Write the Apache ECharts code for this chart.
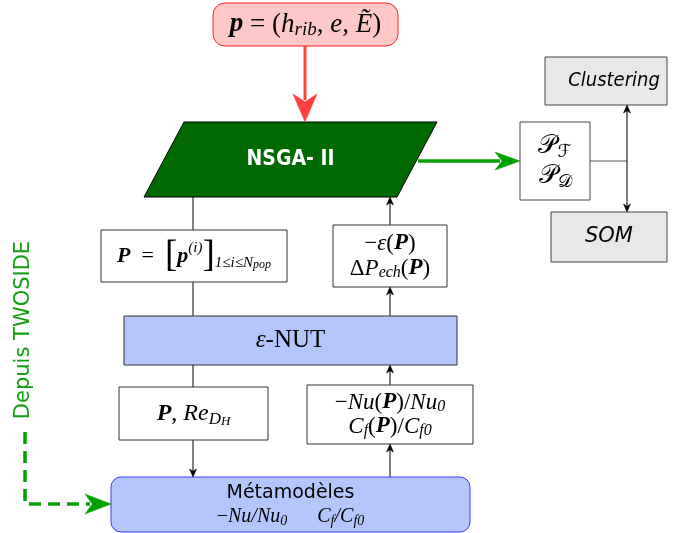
<!DOCTYPE html>
<html><head><meta charset="utf-8">
<script src="https://cdn.jsdelivr.net/npm/echarts@6/dist/echarts.min.js"></script>
<style>html,body{margin:0;padding:0;background:#fff}#c{width:682px;height:533px}</style>
</head><body><div id="c"></div>
<script>
// ---- diagram content (texts) ----
const inputLabel = '{b|p}{n| = (}{i|h}{s|rib}{n|, }{i|e}{n|, }{i|Ẽ}{n|)}';
const optimizerLabel = 'NSGA- II';
const frontLabels = ['{cal|𝒫}{cs|ℱ}', '{cal|𝒫}{cs|𝒟}'];
const postLabels = ['Clustering', 'SOM'];
const populationLabel = '{b|P}{n|  =  }{br|[}{b|p}{sup|(i)}{br|]}{s|1≤i≤N}{ss|pop}';
const objectiveLabels = ['{n|−}{i|ε}{n|(}{b|P}{n|)}', '{n|Δ}{i|P}{s|ech}{n|(}{b|P}{n|)}'];
const solverLabel = '{i|ε}{n|-NUT}';
const inputsLabel = '{b|P}{n|, }{i|Re}{s|D}{ss|H}';
const ratioLabels = ['{n|−}{i|Nu}{n|(}{b|P}{n|)/}{i|Nu}{s|0}', '{i|C}{s|f}{n|(}{b|P}{n|)/}{i|C}{s|f0}'];
const metaTitle = 'Métamodèles';
const metaOutputs = ['{n|−}{i|Nu/Nu}{s|0}', '{i|C}{s|f}{i|/C}{s|f0}'];
const sourceLabel = 'Depuis TWOSIDE';

// ---- layout & style ----
const SERIF = '"Liberation Serif","DejaVu Serif",serif';
const SANS = '"DejaVu Sans","Open Sans",sans-serif';
const SANSC = '"DejaVu Sans Condensed","DejaVu Sans",sans-serif';
function rich(S, lh) {
  lh = lh || Math.round(S * 1.3);
  const sub = Math.round(S * 0.7);
  const base = {fontFamily: SERIF, fontSize: S, lineHeight: lh, verticalAlign: 'middle', fill: '#000'};
  return {
    n: Object.assign({}, base),
    i: Object.assign({}, base, {fontStyle: 'italic'}),
    b: Object.assign({}, base, {fontStyle: 'italic', fontWeight: 'bold'}),
    br: Object.assign({}, base, {fontSize: Math.round(S * 1.7)}),
    s: {fontFamily: SERIF, fontStyle: 'italic', fontSize: sub, lineHeight: sub, verticalAlign: 'bottom', fill: '#000'},
    ss: {fontFamily: SERIF, fontStyle: 'italic', fontSize: Math.round(S * 0.55), lineHeight: Math.round(S * 0.5), verticalAlign: 'bottom', fill: '#000'},
    sup: {fontFamily: SERIF, fontStyle: 'italic', fontSize: sub, lineHeight: sub, verticalAlign: 'top', fill: '#000'},
    cal: Object.assign({}, base, {fontFamily: '"DejaVu Sans",serif'}),
    cs: {fontFamily: '"DejaVu Sans",serif', fontSize: sub, lineHeight: sub, verticalAlign: 'bottom', fill: '#000'},
    t: {fontFamily: SANS, fontSize: 19, lineHeight: 25, verticalAlign: 'middle', fill: '#000'}
  };
}
function box(x, y, w, h, fill, stroke, text, richStyle, extra) {
  extra = extra || {};
  const ts = Object.assign({text: text, align: 'center', verticalAlign: 'middle', fill: '#000'}, extra.font || {});
  if (richStyle) ts.rich = richStyle;
  return {
    type: 'rect', shape: {x: x, y: y, width: w, height: h, r: extra.r || 0},
    style: {fill: fill, stroke: stroke, lineWidth: extra.lw || 1},
    textContent: {type: 'text', style: ts, z: 5},
    textConfig: {position: 'inside', offset: extra.off || [0, 0]}, z: 2
  };
}
function line(pts, color, lw, dash) {
  return {type: 'polyline', shape: {points: pts}, style: {stroke: color, lineWidth: lw, fill: null, lineDash: dash || null}, z: 1};
}
function head(tx, ty, dir, len, hw, color) {
  const dx = dir[0], dy = dir[1], px = -dy, py = dx;
  const bx = tx - dx * len, by = ty - dy * len;
  const nx = tx - dx * len * 0.72, ny = ty - dy * len * 0.72;
  return {type: 'polygon', shape: {points: [[tx, ty], [bx + px * hw, by + py * hw], [nx, ny], [bx - px * hw, by - py * hw]]},
    style: {fill: color, stroke: color, lineWidth: 0.5}, z: 3};
}
const K = '#000';
const elems = [];
// connectors
elems.push(line([[305, 46], [305, 100]], '#ff4040', 3));
elems.push(head(305, 122, [0, 1], 28, 12, '#ff4040'));
elems.push(line([[193, 197], [193, 230]], K, 1));
elems.push(line([[193, 282], [193, 316]], K, 1));
elems.push(line([[193, 365], [193, 387]], K, 1));
elems.push(line([[193, 440], [193, 472]], K, 1));
elems.push(head(193, 477, [0, 1], 8, 3.5, K));
elems.push(line([[390, 477], [390, 449]], K, 1));
elems.push(head(390, 444, [0, -1], 8, 3.5, K));
elems.push(line([[390, 385], [390, 370]], K, 1));
elems.push(head(390, 365, [0, -1], 8, 3.5, K));
elems.push(line([[390, 316], [390, 292]], K, 1));
elems.push(head(390, 287, [0, -1], 8, 3.5, K));
elems.push(line([[390, 225], [390, 202]], K, 1));
elems.push(head(390, 197, [0, -1], 8, 3.5, K));
elems.push(line([[418, 161], [500, 161]], '#00a000', 3.5));
elems.push(head(520, 161, [1, 0], 25, 9, '#00a000'));
elems.push(line([[590, 161], [627, 161]], '#555', 1));
elems.push(line([[627, 110], [627, 207]], K, 1));
elems.push(head(627, 105, [0, -1], 8, 3.5, K));
elems.push(head(627, 212, [0, 1], 8, 3.5, K));
elems.push(line([[25, 432], [25, 504], [90, 504]], '#00a000', 3.5, [12, 7]));
elems.push(head(111, 504, [1, 0], 26, 10, '#00a000'));
// nodes
elems.push(box(213, 3, 185, 43, '#ffc8c8', '#ff2020', inputLabel, rich(27, 30), {r: 12}));
elems.push({
  type: 'polygon', shape: {points: [[184, 122], [437, 122], [397, 197], [144, 197]]},
  style: {fill: '#006a00', stroke: '#000', lineWidth: 1}, z: 2,
  textContent: {type: 'text', z: 5, style: {text: optimizerLabel, fill: '#fff', font: 'bold 21px ' + SANSC, align: 'center', verticalAlign: 'middle'}},
  textConfig: {position: 'inside'}
});
elems.push(box(520, 122, 70, 78, '#fff', '#444', frontLabels.join('\n'), rich(26, 30)));
elems.push(box(545, 57, 122, 48, '#e8e8e8', '#444', postLabels[0], null, {font: {font: 'italic 20px ' + SANSC}, off: [8, 0]}));
elems.push(box(551, 212, 116, 50, '#e8e8e8', '#444', postLabels[1], null, {font: {font: 'italic 21px ' + SANS}}));
elems.push(box(101, 230, 186, 52, '#fff', '#333', populationLabel, rich(22, 30)));
elems.push(box(333, 225, 114, 62, '#fff', '#333', objectiveLabels.join('\n'), rich(23, 25)));
elems.push(box(124, 316, 333, 49, '#b4c7fc', '#333', solverLabel, rich(25)));
elems.push(box(119, 387, 149, 53, '#fff', '#333', inputsLabel, rich(24, 30)));
elems.push(box(307, 385, 166, 59, '#fff', '#333', ratioLabels.join('\n'), rich(23, 24)));
elems.push(box(111, 477, 359, 55, '#b4c7fc', '#3a3aff', '{t|' + metaTitle + '}\n' + metaOutputs.join('{n|      }'), rich(20, 22), {r: 10}));
elems.push({type: 'text', x: 24, y: 330, rotation: Math.PI / 2, z: 3,
  style: {text: sourceLabel, fill: '#10a010', font: '21px ' + SANS, align: 'center', verticalAlign: 'middle'}});

const chart = echarts.init(document.getElementById('c'), null, {renderer: 'canvas'});
chart.setOption({animation: false, graphic: {elements: elems}});
</script></body></html>
